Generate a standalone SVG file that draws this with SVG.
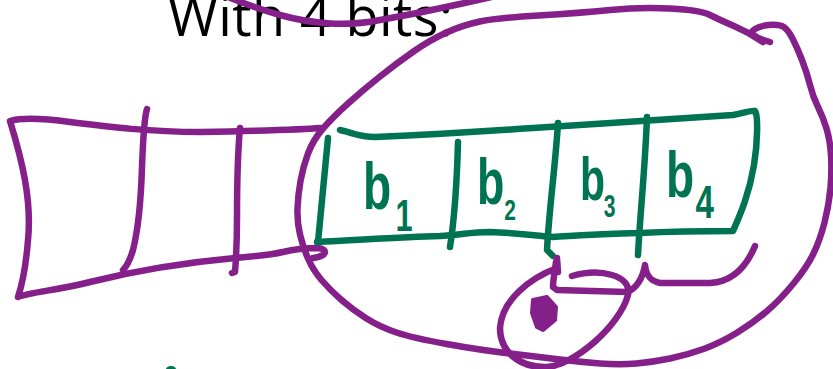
<svg xmlns="http://www.w3.org/2000/svg" width="833" height="369" viewBox="0 0 833 369">
<style>
.p{fill:none;stroke:#85208a;stroke-width:6.5;stroke-linecap:round;stroke-linejoin:round}
.g{fill:none;stroke:#007352;stroke-width:6.5;stroke-linecap:round;stroke-linejoin:round}
.t{font-family:"Open Sans","Liberation Sans",sans-serif;font-weight:normal;fill:#000}
.lb{font-family:"Liberation Sans",Arial,sans-serif;font-weight:bold;fill:#007352}
</style>
<rect width="833" height="369" fill="#fff"/>
<g id="title">
<text class="t" x="168" y="36" font-size="54" textLength="285" lengthAdjust="spacing">With 4 bits:</text>
</g>
<g id="left-array">
<path class="p" d="M320,128 C300,130 250,131 200,132 C150,132 110,127 70,122 C40,118 20,118 10,121 C22,160 32,200 28,240 C26,265 22,285 18,297 C30,292 60,290 90,282 C130,272 180,263 235,258 C260,256 270,255 283,252 C295,249 305,248 318,248 C328,249 328,256 313,258"/>
<path class="p" d="M147,109 C144,118 143,140 142,167 C141,200 138,230 133,250 C130,260 127,266 123,270"/>
<path class="p" d="M240,128 C238,150 237,190 237,217 C237,240 236,260 235,272 L232,273"/>
</g>
<g id="bit-box">
<path class="g" d="M340,130 C350,132 360,137 375,137 C420,135 460,133 533,128 C600,124 700,117 733,115 C745,113 750,110 755,111 C758,115 758,140 754,165 C749,195 740,215 733,231 C700,231 660,232 640,233 C600,234 570,236 553,237 C540,236 520,233 490,232 C470,232 460,235 440,236 C400,237 360,240 317,242"/>
<path class="g" d="M328,138 L318,242"/>
<path class="g" d="M458,142 C457,180 455,215 450,247"/>
<path class="g" d="M558,123 C555,170 549,210 547,250 L553,256"/>
<path class="g" d="M647,117 C645,170 640,215 638,255"/>
<text class="lb" transform="translate(363,209) scale(0.7,1)" font-size="66">b<tspan dx="6" dy="22" font-size="44">1</tspan></text>
<text class="lb" transform="translate(477,204) scale(0.7,1)" font-size="64">b<tspan dx="0" dy="16" font-size="30">2</tspan></text>
<text class="lb" transform="translate(580,200) scale(0.66,1)" font-size="62">b<tspan dx="-2" dy="17" font-size="32">3</tspan></text>
<text class="lb" transform="translate(666,197) scale(0.72,1)" font-size="64">b<tspan dx="2" dy="21" font-size="46">4</tspan></text>
<ellipse cx="171" cy="369" rx="5" ry="3" fill="#007352"/>
</g>
<g id="loop">
<path class="p" d="M228,-3 Q255,8 280,15 Q305,22 330,23.5 Q355,25 380,20 Q420,13 460,4 L505,-6"/>
<path class="p" d="M770,42 L763.5,40 Q757,38 753.5,35 Q750,32 755,29 Q760,26 768.5,25 Q777,24 782,26 Q787,28 792,37.5 Q797,47 802,60 Q807,73 810,85 Q813,97 818,107 Q823,117 826.5,128.5 Q830,140 831,155 Q832,170 830.5,187.5 Q829,205 824.5,222.5 Q820,240 813.5,253.5 Q807,267 793.5,283.5 Q780,300 766.5,311.5 Q753,323 736.5,333 Q720,343 703.5,349 Q687,355 670,358.5 Q653,362 636.5,363.5 Q620,365 600,363.5 Q580,362 560,359.5 Q540,357 510,353.5 Q480,350 446.5,344 Q413,338 396.5,332.5 Q380,327 366.5,318.5 Q353,310 341.5,300 Q330,290 321.5,280 Q313,270 308,258.5 Q303,247 300,234.5 Q297,222 297.5,208.5 Q298,195 300.5,181 Q303,167 308,153.5 Q313,140 323,128.5 Q333,117 348,103.5 Q363,90 380,76.5 Q397,63 413.5,51.5 Q430,40 446.5,32.5 Q463,25 480,21.5 Q497,18 538.5,15.5 Q580,13 610,10 Q640,7 670,8.5 Q700,10 710,15 Q720,20 735,26.5 Q750,33 763,42"/>
</g>
<g id="pointer">
<path class="p" d="M557,258 L558,272"/>
<path class="p" d="M557,268 C530,278 502,300 500,328 C500,352 520,368 547,367 C575,365 620,325 628,295 C632,275 600,268 572,276"/>
<path class="p" d="M556,262 C555,270 553,280 553,287 L557,290 L627,292 C636,289 643,278 645,265 C646,275 650,281 660,283 L710,283 C730,282 745,270 755,246"/>
<path d="M533,300 L547,297 L556,307 L555,320 L543,330 L537,327 L532,313 Z" fill="#85208a" stroke="#85208a" stroke-width="4" stroke-linejoin="round"/>
</g>
</svg>
